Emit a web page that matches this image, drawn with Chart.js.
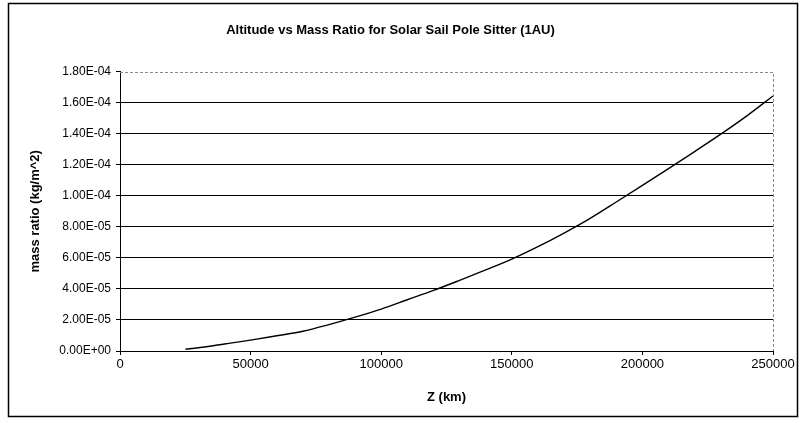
<!DOCTYPE html>
<html>
<head>
<meta charset="utf-8">
<script src="https://cdn.jsdelivr.net/npm/chart.js@4.4.1/dist/chart.umd.min.js"></script>
<style>
  html, body { margin: 0; padding: 0; background: #fff; }
  #wrap { position: relative; width: 800px; height: 423px; }
</style>
</head>
<body>
<div id="wrap"><canvas id="myChart" width="800" height="423"></canvas></div>
<script>
// altitude Z (km) and mass ratio (kg/m^2)
var altitude = [25000, 30000, 40000, 50000, 60000, 70000, 80000, 90000, 100000, 110000, 120000,
                130000, 140000, 150000, 160000, 170000, 180000, 190000, 200000, 210000, 220000,
                230000, 240000, 250000];
var massRatio = [1.2e-6, 2.1e-6, 4.5e-6, 7.0e-6, 9.8e-6, 1.27e-5, 1.7e-5, 2.18e-5, 2.7e-5, 3.3e-5, 3.9e-5,
                 4.55e-5, 5.22e-5, 5.92e-5, 6.72e-5, 7.6e-5, 8.55e-5, 9.6e-5, 1.067e-4, 1.175e-4, 1.285e-4,
                 1.397e-4, 1.515e-4, 1.643e-4];
var xTicks = [0, 50000, 100000, 150000, 200000, 250000];
var yTicks = [0, 2e-5, 4e-5, 6e-5, 8e-5, 1e-4, 1.2e-4, 1.4e-4, 1.6e-4, 1.8e-4];

var FONT = "'Liberation Sans', Arial, sans-serif";

function sciLabel(v) {
    var s = Number(v).toExponential(2).toUpperCase();   // 1.80E-4
    var parts = s.split('E');
    var exp = parseInt(parts[1], 10);
    var sign = exp < 0 ? '-' : '+';
    exp = Math.abs(exp);
    return parts[0] + 'E' + sign + (exp < 10 ? '0' : '') + exp;
}

//* frame round the whole chart and the dotted top/right plot edges
var framePlugin = {
    id: 'frame',
    afterDraw: function(chart) {
        var ctx = chart.ctx, a = chart.chartArea;
        ctx.save();
        ctx.strokeStyle = '#000';
        ctx.lineWidth = 1.5;
        ctx.strokeRect(8.5, 3.5, 789, 413);
        ctx.strokeStyle = '#888';
        ctx.lineWidth = 1;
        ctx.setLineDash([3, 2]);
        ctx.beginPath();
        ctx.moveTo(a.left, Math.round(a.top) + 0.5);
        ctx.lineTo(Math.round(a.right) + 0.5, Math.round(a.top) + 0.5);
        ctx.lineTo(Math.round(a.right) + 0.5, a.bottom);
        ctx.stroke();
        ctx.restore();
    }
};

var ctx = document.getElementById('myChart').getContext('2d');
var myChart = new Chart(ctx, {
    type: 'scatter',
    data: {
        datasets: [{
            data: altitude.map(function(x, i) { return { x: x, y: massRatio[i] }; }),
            showLine: true,
            borderColor: '#000',
            borderWidth: 1.4,
            pointRadius: 0,
            cubicInterpolationMode: 'monotone',
            fill: false
        }]
    },
    options: {
        responsive: false,
        animation: false,
        layout: { padding: { left: 8, right: 27, top: 0, bottom: 0 } },
        plugins: {
            legend: { display: false },
            tooltip: { enabled: false },
            title: {
                display: true,
                text: 'Altitude vs Mass Ratio for Solar Sail Pole Sitter (1AU)',
                color: '#000',
                font: { family: FONT, size: 13, weight: 'bold' },
                padding: { top: 23, bottom: 33 }
            }
        },
        scales: {
            x: {
                type: 'linear',
                min: 0,
                max: 250000,
                afterFit: function(scale) { scale.height = 72; },
                afterBuildTicks: function(scale) {
                    scale.ticks = xTicks.map(function(v) { return { value: v }; });
                },
                ticks: {
                    color: '#000',
                    font: { family: FONT, size: 13 },
                    padding: 2,
                    maxRotation: 0,
                    callback: function(v) { return String(v); }
                },
                grid: { drawOnChartArea: false, drawTicks: true, tickLength: 4, color: '#000' },
                border: { color: '#000', width: 1 },
                title: {
                    display: true,
                    text: 'Z (km)',
                    color: '#000',
                    font: { family: FONT, size: 13, weight: 'bold' },
                    padding: { top: 0, bottom: 18 }
                }
            },
            y: {
                type: 'linear',
                min: 0,
                max: 1.8e-4,
                afterFit: function(scale) { scale.width = 112; },
                afterBuildTicks: function(scale) {
                    scale.ticks = yTicks.map(function(v) { return { value: v }; });
                },
                ticks: {
                    color: '#000',
                    font: { family: FONT, size: 12 },
                    padding: 5,
                    callback: function(v) { return sciLabel(v); }
                },
                grid: {
                    color: function(c) { return c.index === yTicks.length - 1 ? 'rgba(0,0,0,0)' : '#000'; },
                    tickColor: '#000',
                    tickLength: 4,
                    lineWidth: 1
                },
                border: { color: '#000', width: 1 },
                title: {
                    display: true,
                    text: 'mass ratio (kg/m^2)',
                    color: '#000',
                    font: { family: FONT, size: 13, weight: 'bold' },
                    padding: { top: 20, bottom: 0 }
                }
            }
        }
    },
    plugins: [framePlugin]
});
</script>
</body>
</html>
